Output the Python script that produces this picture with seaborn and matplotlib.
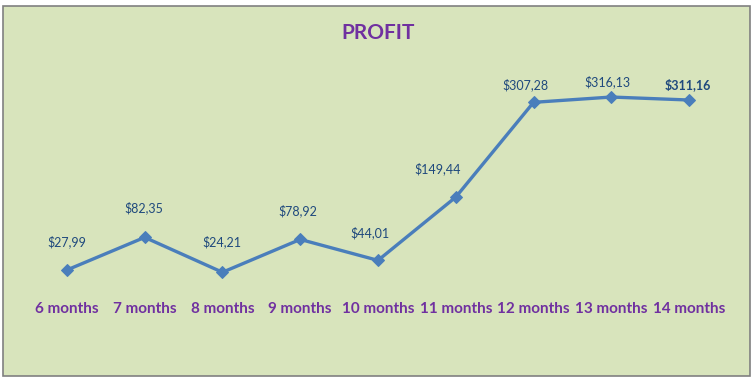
import matplotlib
matplotlib.use("Agg")
import matplotlib.pyplot as plt
from matplotlib.patches import Rectangle
import seaborn as sns
import pandas as pd

categories = ["6 months", "7 months", "8 months", "9 months", "10 months",
              "11 months", "12 months", "13 months", "14 months"]
profit = [27.99, 82.35, 24.21, 78.92, 44.01, 149.44, 307.28, 316.13, 311.16]
labels = ["$27,99", "$82,35", "$24,21", "$78,92", "$44,01",
          "$149,44", "$307,28", "$316,13", "$311,16"]

df = pd.DataFrame({"cat": categories, "profit": profit})

sns.set_theme(style="white")
plt.rcParams["font.family"] = ["Lato", "DejaVu Sans"]

W, H = 756, 382
fig = plt.figure(figsize=(W / 100, H / 100), dpi=100)
fig.patch.set_facecolor("white")

# green chart area with grey border
bg = Rectangle((3 / W, 1 - 376 / H), (750 - 3) / W, (376 - 6) / H,
               transform=fig.transFigure, facecolor="#D8E4BC",
               edgecolor="#808080", linewidth=1.2, zorder=0)
fig.add_artist(bg)

left, right = 28, 728
bottom_px, top_px = 286.8, 76.7
ax = fig.add_axes([left / W, 1 - bottom_px / H, (right - left) / W, (bottom_px - top_px) / H])
ax.patch.set_alpha(0)

sns.lineplot(data=df, x="cat", y="profit", ax=ax, color="#4A7EBB", linewidth=2.4,
             marker="D", markersize=6, markeredgecolor="#4A7EBB", sort=False)

ax.set_xlim(-0.5, len(categories) - 0.5)
ax.set_ylim(0, 350)
for s in ax.spines.values():
    s.set_visible(False)
ax.set_yticks([])
ax.set_xlabel("")
ax.set_ylabel("")
ax.tick_params(axis="x", length=0, pad=11)
ax.set_xticks(range(len(categories)))
ax.set_xticklabels(categories, fontsize=11, fontweight="bold", color="#7030A0")

label_dx = [0, -1, -1, -2, -8, -18, -8, -4, -1]
label_dy = [28, 30, 31, 29, 28, 28, 18, 15, 15]
for i, (v, t) in enumerate(zip(profit, labels)):
    ax.annotate(t, (i, v), xytext=(label_dx[i], label_dy[i]), textcoords="offset pixels",
                ha="center", va="center", fontsize=9, color="#1F497D",
                fontweight="bold" if i == len(profit) - 1 else "normal")

fig.text(378 / W, 1 - 33 / H, "PROFIT", ha="center", va="center",
         fontsize=15, fontweight="bold", color="#7030A0")

fig.savefig("out.png", dpi=100)
